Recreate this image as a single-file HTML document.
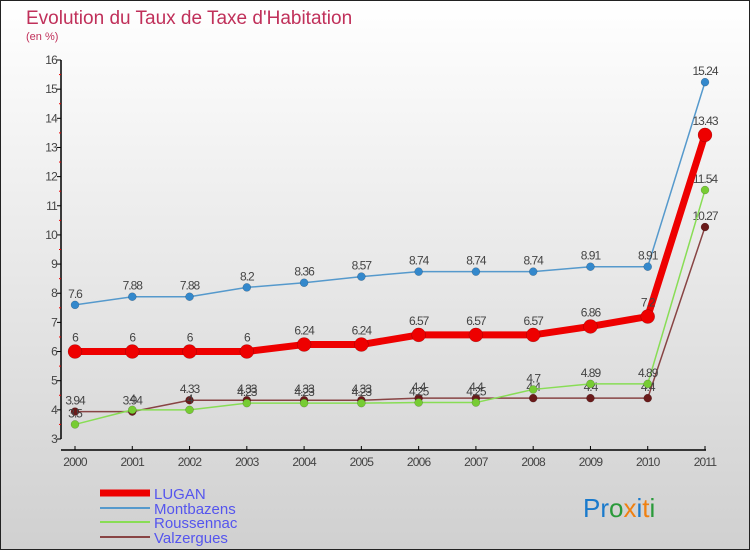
<!DOCTYPE html>
<html><head><meta charset="utf-8"><style>
body{margin:0}
#c{width:750px;height:550px;position:relative;overflow:hidden;background:linear-gradient(#ffffff,#d0d0d0);box-sizing:border-box;border:1px solid #222;font-family:"Liberation Sans",sans-serif}
</style></head><body>
<div id="c">
<svg id="s" width="750" height="550" style="position:absolute;left:-1px;top:-1px">
<text x="26" y="24" font-size="19" fill="#c0305a">Evolution du Taux de Taxe d'Habitation</text>
<text x="26" y="40" font-size="11" fill="#c0305a">(en %)</text>
<g id="axes"></g><g id="series"></g>
<g>
<line x1="100" y1="493" x2="150" y2="493" stroke="#ee0000" stroke-width="7"/>
<text x="154" y="499" font-size="15" fill="#5555ee">LUGAN</text>
<line x1="100" y1="508" x2="150" y2="508" stroke="#5599cc" stroke-width="2"/>
<text x="154" y="514" font-size="15" fill="#5555ee">Montbazens</text>
<line x1="100" y1="522" x2="150" y2="522" stroke="#88dd55" stroke-width="2"/>
<text x="154" y="528" font-size="15" fill="#5555ee">Roussennac</text>
<line x1="100" y1="537" x2="150" y2="537" stroke="#884444" stroke-width="2"/>
<text x="154" y="543" font-size="15" fill="#5555ee">Valzergues</text>
</g>
<text x="583" y="517" font-size="26"><tspan fill="#1a7acc">Pr</tspan><tspan fill="#2a9a3a">o</tspan><tspan fill="#f08010">x</tspan><tspan fill="#1a7acc">i</tspan><tspan fill="#f08010">t</tspan><tspan fill="#2a9a3a">i</tspan></text>
</svg>
</div>
<script>
const years=["2000","2001","2002","2003","2004","2005","2006","2007","2008","2009","2010","2011"];
const lugan=[6,6,6,6,6.24,6.24,6.57,6.57,6.57,6.86,7.2,13.43];
const montbazens=[7.6,7.88,7.88,8.2,8.36,8.57,8.74,8.74,8.74,8.91,8.91,15.24];
const roussennac=[3.5,4,4,4.23,4.23,4.23,4.25,4.25,4.7,4.89,4.89,11.54];
const valzergues=[3.94,3.94,4.33,4.33,4.33,4.33,4.4,4.4,4.4,4.4,4.4,10.27];
const yTicks=[3,4,5,6,7,8,9,10,11,12,13,14,15,16];
const NS="http://www.w3.org/2000/svg";
const X=i=>75+i*(630/11);
const Y=v=>439-(v-3)*(379/13);
function mk(t,a,p){const e=document.createElementNS(NS,t);for(const k in a)e.setAttribute(k,a[k]);p.appendChild(e);return e;}
const ax=document.getElementById('axes');
let l=mk('line',{x1:61,y1:60,x2:61,y2:439,stroke:'#000','stroke-width':1.5},ax);


l=mk('line',{x1:61,y1:450,x2:706,y2:450,stroke:'#000','stroke-width':1.5},ax);


yTicks.forEach((v,i)=>{
 mk('line',{x1:57,y1:Y(v),x2:61,y2:Y(v),stroke:'#000'},ax);
 if(i<yTicks.length-1)mk('line',{x1:59,y1:Y(v+0.5),x2:61,y2:Y(v+0.5),stroke:'#e00'},ax);
 const t=mk('text',{x:57,y:Y(v)+4,'font-size':12,fill:'#444','text-anchor':'end','letter-spacing':'-0.8'},ax);
 t.textContent=v;
 
 
});
years.forEach((y,i)=>{
 mk('line',{x1:X(i),y1:446,x2:X(i),y2:450,stroke:'#000'},ax);
 const t=mk('text',{x:X(i),y:466,'font-size':12,fill:'#444','text-anchor':'middle','letter-spacing':'-0.8'},ax);
 t.textContent=y;
 
 
});
const sg=document.getElementById('series');
function draw(vals,name,color,w,r,dot){
 const g=mk('g',{},sg);
 
 
 const p=mk('polyline',{points:vals.map((v,i)=>X(i)+','+Y(v)).join(' '),fill:'none',stroke:color,'stroke-width':w,'stroke-linejoin':'round'},g);
 
 
 vals.forEach((v,i)=>{
  const c=mk('circle',{cx:X(i),cy:Y(v),r:r,fill:dot,stroke:'rgba(0,0,0,0.3)','stroke-width':0.5},g);
  
  
  const t=mk('text',{x:X(i),y:Y(v)-r-3,'font-size':12,fill:'#444','text-anchor':'middle','letter-spacing':'-1'},g);
  t.textContent=v;
  
  
 });
}
draw(valzergues,'valzergues','#884444',1.5,4,'#6a1a1a');
draw(roussennac,'roussennac','#88dd55',1.5,4,'#77cc33');
draw(montbazens,'montbazens','#5599cc',1.5,4,'#3388cc');
draw(lugan,'lugan','#ee0000',7,7,'#ee0000');
</script>
</body></html>
